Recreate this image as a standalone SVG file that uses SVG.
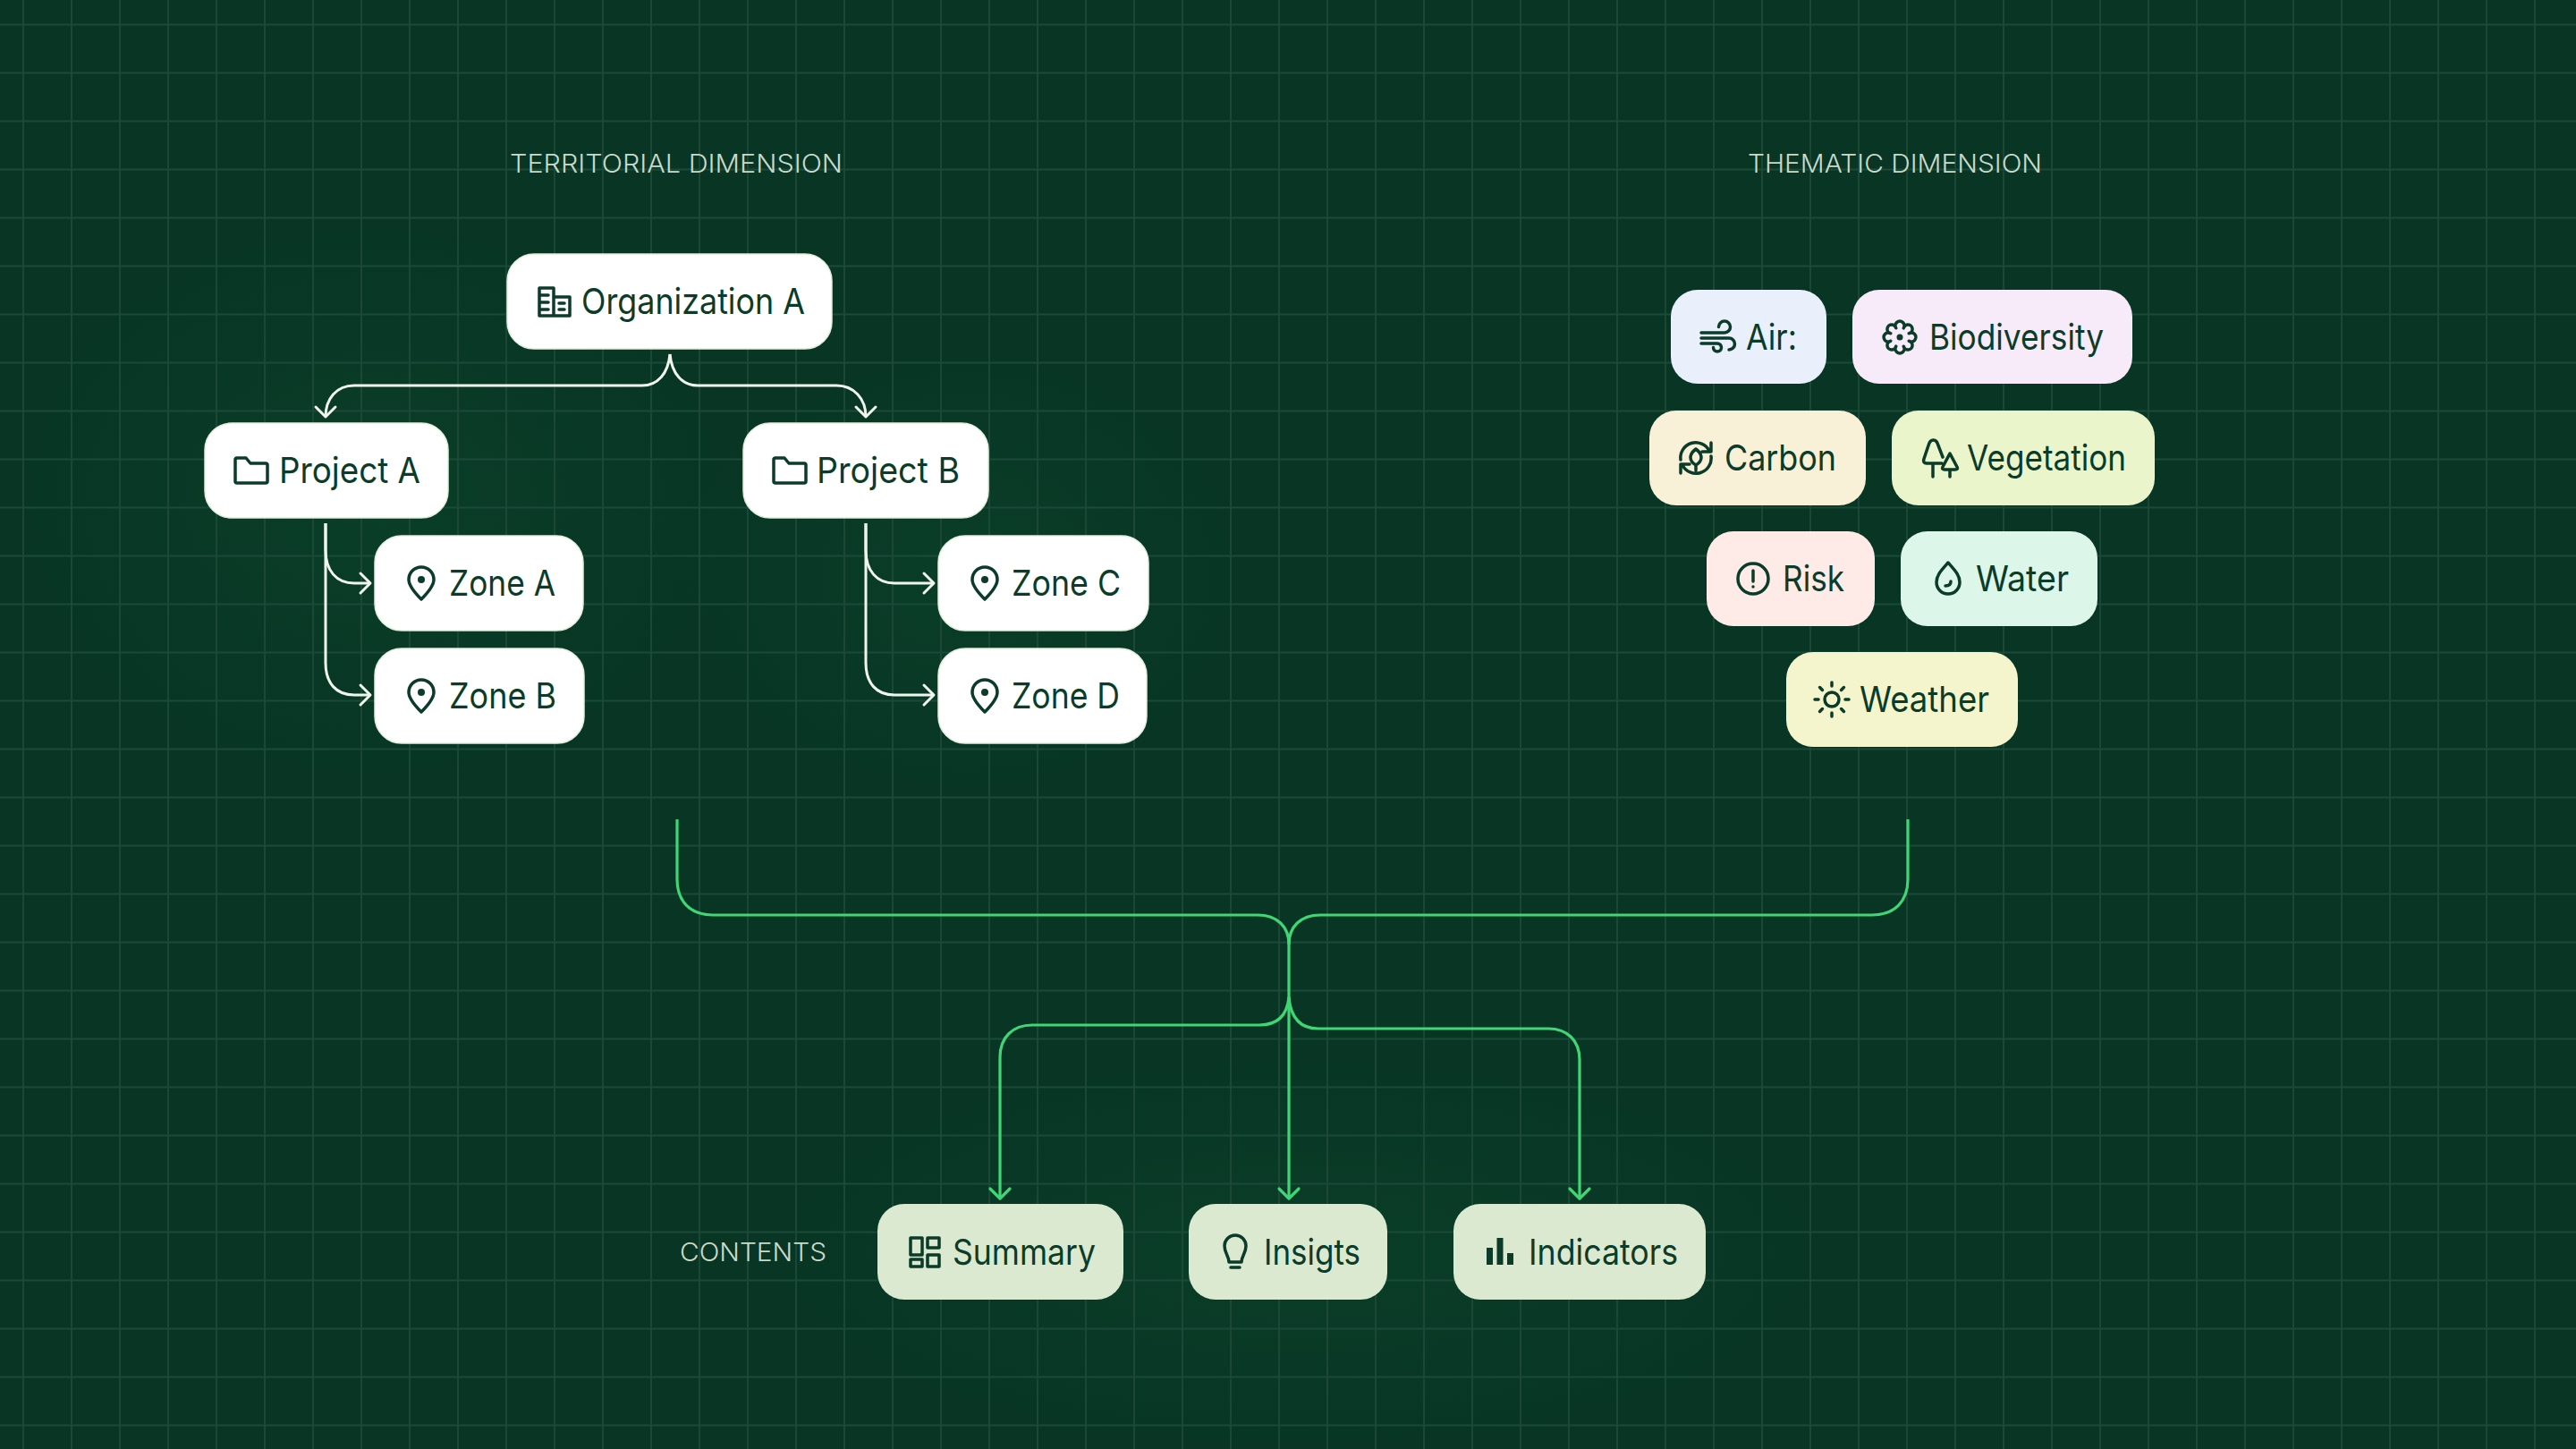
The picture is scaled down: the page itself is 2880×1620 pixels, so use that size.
<svg xmlns="http://www.w3.org/2000/svg" width="2880" height="1620" viewBox="0 0 2880 1620">
<defs>
<radialGradient id="glow"><stop offset="0" stop-color="#0c4a2e" stop-opacity=".45"/><stop offset="1" stop-color="#0c4a2e" stop-opacity="0"/></radialGradient>
<pattern id="grid" width="54" height="54" patternUnits="userSpaceOnUse" x="-1" y="0.500">
<path d="M27 0V54M0 27H54" fill="none" stroke="#1c4a37" stroke-width="1.800"/>
</pattern>
<marker id="aw" markerUnits="userSpaceOnUse" markerWidth="30" markerHeight="30" refX="14" refY="12" orient="auto" overflow="visible"><path d="M3 1 L14 12 L3 23" fill="none" stroke="#f1f6ec" stroke-width="3" stroke-linecap="round" stroke-linejoin="round"/></marker>
<marker id="ag" markerUnits="userSpaceOnUse" markerWidth="30" markerHeight="30" refX="14" refY="12" orient="auto" overflow="visible"><path d="M3 1 L14 12 L3 23" fill="none" stroke="#40d675" stroke-width="3.200" stroke-linecap="round" stroke-linejoin="round"/></marker>
<g id="i-building"><path d="M-17-15H-1V16H-17ZM-1-5H17V16H-1ZM-17-7H-7M-17 1H-7M-17 9H-7M5 2H11M5 9H11"/></g>
<g id="i-folder"><path d="M-18-12A2 2 0 0 1-16-14H-6L-1-8H16A2 2 0 0 1 18-6V12A2 2 0 0 1 16 14H-16A2 2 0 0 1-18 12Z"/></g>
<g id="i-pin"><path d="M0 18C-8 10-14 3-14-4A14 14 0 0 1 14-4C14 3 8 10 0 18Z"/><circle cx="0" cy="-4" r="4" class="dot"/></g>
<g id="i-wind"><path d="M-19-6H7A6.500 6.500 0 1 0 .5-12.500M-19 0H12A6.500 6.500 0 0 1 12 13M-19 6H-1A4.500 4.500 0 1 1-5.500 10.500"/></g>
<g id="i-flower"><path d="M10.200-4.200A5 5 0 1 1 10.200 4.200 5 5 0 1 1 4.200 10.200 5 5 0 1 1-4.200 10.200 5 5 0 1 1-10.200 4.200 5 5 0 1 1-10.200-4.200 5 5 0 1 1-4.200-10.200 5 5 0 1 1 4.200-10.200 5 5 0 1 1 10.200-4.200Z"/><circle r="3.500" class="dot"/></g>
<g id="i-carbon"><path d="M-17 2A17 17 0 0 1 15-8M17-17V-7H7M17-2A17 17 0 0 1-15 8M-17 17V7H-7M0-10C8-4 8 3 0 8C-8 3-8-4 0-10ZM0 8V14"/></g>
<g id="i-trees"><path d="M3 6H-14C-17 6-18 4-17 1L-12-14C-10-22-3-22-1-14L4-1M-7 6V21M12-5L20 10C21 12 20 13 18 13H6C4 13 3 12 4 10ZM12 13V21"/></g>
<g id="i-alert"><circle r="17"/><path d="M0-9V3M0 9V9.100"/></g>
<g id="i-drop"><path d="M0-18C8-9 13-4 13 4A13 13 0 0 1-13 4C-13-4-8-9 0-18ZM-3 8C1 8 3 6 3 3"/></g>
<g id="i-sun"><circle r="8"/><path d="M0-19V-15M0 15V19M-19 0H-15M15 0H19M-13.400-13.400L-10.600-10.600M10.600 10.600L13.400 13.400M-13.400 13.400L-10.600 10.600M10.600-10.600L13.400-13.400"/></g>
<g id="i-dash"><path d="M-16-16H-3V3H-16ZM3-16H16V-5H3ZM3 3H16V16H3ZM-16 8H-3V16H-16Z"/></g>
<g id="i-bulb"><path d="M-7 11C-7 4-12 1-12-7A12 12 0 0 1 12-7C12 1 7 4 7 11ZM-5 17H5"/></g>
<g id="i-bars"><path class="solid" d="M-15-4H-8V15H-15ZM-3.500-15H3.500V15H-3.500ZM8 2H15V15H8Z"/></g>
</defs>
<style>
text{font-family:"Inter","Liberation Sans",sans-serif;font-size:40px;font-weight:400;fill:#0b3b29}
.lbl{font-size:28px;font-weight:350;fill:#c7dacb}
.w{fill:#fff;stroke:#e2eedb;stroke-width:1.500}
.c{stroke:none}
use{fill:none;stroke:#0b3b29;stroke-width:3.500;stroke-linejoin:round;stroke-linecap:round}
.dot,.solid{fill:#0b3b29;stroke:none}
.cw{fill:none;stroke:#f1f6ec;stroke-width:3}
.cg{fill:none;stroke:#40d675;stroke-width:3.200}
</style>
<rect width="2880" height="1620" fill="#083524"/>
<ellipse cx="420" cy="560" rx="420" ry="330" fill="url(#glow)"/>
<ellipse cx="1080" cy="640" rx="320" ry="260" fill="url(#glow)"/>
<ellipse cx="1450" cy="1400" rx="620" ry="230" fill="url(#glow)"/>
<rect width="2880" height="1620" fill="url(#grid)"/>
<g id="labels">
<text class="lbl" x="570" y="193" textLength="372" lengthAdjust="spacingAndGlyphs">TERRITORIAL DIMENSION</text>
<text class="lbl" x="1954" y="193" textLength="329" lengthAdjust="spacingAndGlyphs">THEMATIC DIMENSION</text>
<text class="lbl" x="760" y="1410" textLength="164" lengthAdjust="spacingAndGlyphs">CONTENTS</text>
</g>
<g id="connectors">
<path class="cw" marker-end="url(#aw)" d="M749 396C747 418 735 431 718 431H396C376 431 364 446 364 466"/>
<path class="cw" marker-end="url(#aw)" d="M749 396C751 418 763 431 780 431H935C955 431 968 446 968 466"/>
<path class="cw" marker-end="url(#aw)" d="M364 585V615C364 638 376 652 396 652H414"/>
<path class="cw" marker-end="url(#aw)" d="M364 585V741C364 764 376 777 396 777H414"/>
<path class="cw" marker-end="url(#aw)" d="M968 585V615C968 638 980 652 1000 652H1044"/>
<path class="cw" marker-end="url(#aw)" d="M968 585V741C968 764 980 777 1000 777H1044"/>
<path class="cg" d="M757 916V983C757 1008 772 1023 797 1023H1406C1428 1023 1441 1036 1441 1056V1115"/>
<path class="cg" d="M2133 916V983C2133 1008 2118 1023 2093 1023H1476C1454 1023 1441 1036 1441 1056"/>
<path class="cg" marker-end="url(#ag)" d="M1441 1115C1439 1135 1428 1146 1408 1146H1154C1132 1146 1118 1160 1118 1182V1340"/>
<path class="cg" marker-end="url(#ag)" d="M1441 1115C1443 1138 1454 1150 1474 1150H1731C1752 1150 1766 1163 1766 1185V1340"/>
<path class="cg" marker-end="url(#ag)" d="M1441 1115V1340"/>
</g>
<g id="organization-a"><rect class="w" x="567" y="284" width="363" height="106" rx="30"/><use href="#i-building" x="620" y="337"/><text x="650" y="351" textLength="250" lengthAdjust="spacingAndGlyphs">Organization A</text></g>
<g id="project-a"><rect class="w" x="229" y="473" width="272" height="106" rx="30"/><use href="#i-folder" x="281" y="526"/><text x="312" y="540" textLength="158" lengthAdjust="spacingAndGlyphs">Project A</text></g>
<g id="project-b"><rect class="w" x="831" y="473" width="274" height="106" rx="30"/><use href="#i-folder" x="883" y="526"/><text x="913" y="540" textLength="160" lengthAdjust="spacingAndGlyphs">Project B</text></g>
<g id="zone-a"><rect class="w" x="419" y="599" width="233" height="106" rx="30"/><use href="#i-pin" x="471" y="652"/><text x="502" y="666" textLength="119" lengthAdjust="spacingAndGlyphs">Zone A</text></g>
<g id="zone-b"><rect class="w" x="419" y="725" width="234" height="106" rx="30"/><use href="#i-pin" x="471" y="778"/><text x="502" y="792" textLength="120" lengthAdjust="spacingAndGlyphs">Zone B</text></g>
<g id="zone-c"><rect class="w" x="1049" y="599" width="235" height="106" rx="30"/><use href="#i-pin" x="1101" y="652"/><text x="1131" y="666" textLength="122" lengthAdjust="spacingAndGlyphs">Zone C</text></g>
<g id="zone-d"><rect class="w" x="1049" y="725" width="233" height="106" rx="30"/><use href="#i-pin" x="1101" y="778"/><text x="1131" y="792" textLength="121" lengthAdjust="spacingAndGlyphs">Zone D</text></g>
<g id="air"><rect class="c" fill="#e9f0fb" x="1868" y="324" width="174" height="105" rx="30"/><use href="#i-wind" x="1921" y="378"/><text x="1952" y="391" textLength="57" lengthAdjust="spacingAndGlyphs">Air:</text></g>
<g id="biodiversity"><rect class="c" fill="#f7ebf9" x="2071" y="324" width="313" height="105" rx="30"/><use href="#i-flower" x="2124" y="377"/><text x="2157" y="391" textLength="195" lengthAdjust="spacingAndGlyphs">Biodiversity</text></g>
<g id="carbon"><rect class="c" fill="#f9f0d8" x="1844" y="459" width="242" height="106" rx="30"/><use href="#i-carbon" x="1896" y="512"/><text x="1928" y="526" textLength="125" lengthAdjust="spacingAndGlyphs">Carbon</text></g>
<g id="vegetation"><rect class="c" fill="#ebf5cc" x="2115" y="459" width="294" height="106" rx="30"/><use href="#i-trees" x="2168" y="512"/><text x="2199" y="526" textLength="178" lengthAdjust="spacingAndGlyphs">Vegetation</text></g>
<g id="risk"><rect class="c" fill="#feebe8" x="1908" y="594" width="188" height="106" rx="30"/><use href="#i-alert" x="1960" y="647"/><text x="1993" y="661" textLength="69" lengthAdjust="spacingAndGlyphs">Risk</text></g>
<g id="water"><rect class="c" fill="#dcf6ea" x="2125" y="594" width="220" height="106" rx="30"/><use href="#i-drop" x="2178" y="647"/><text x="2209" y="661" textLength="104" lengthAdjust="spacingAndGlyphs">Water</text></g>
<g id="weather"><rect class="c" fill="#f5f5cd" x="1997" y="729" width="259" height="106" rx="30"/><use href="#i-sun" x="2048" y="782"/><text x="2079" y="796" textLength="145" lengthAdjust="spacingAndGlyphs">Weather</text></g>
<g id="summary"><rect class="c" fill="#dbe9d0" x="981" y="1346" width="275" height="107" rx="30"/><use href="#i-dash" x="1034" y="1400"/><text x="1065" y="1414" textLength="160" lengthAdjust="spacingAndGlyphs">Summary</text></g>
<g id="insigts"><rect class="c" fill="#dbe9d0" x="1329" y="1346" width="222" height="107" rx="30"/><use href="#i-bulb" x="1381" y="1400"/><text x="1413" y="1414" textLength="108" lengthAdjust="spacingAndGlyphs">Insigts</text></g>
<g id="indicators"><rect class="c" fill="#dbe9d0" x="1625" y="1346" width="282" height="107" rx="30"/><use href="#i-bars" x="1677" y="1399"/><text x="1709" y="1414" textLength="167" lengthAdjust="spacingAndGlyphs">Indicators</text></g>
</svg>
